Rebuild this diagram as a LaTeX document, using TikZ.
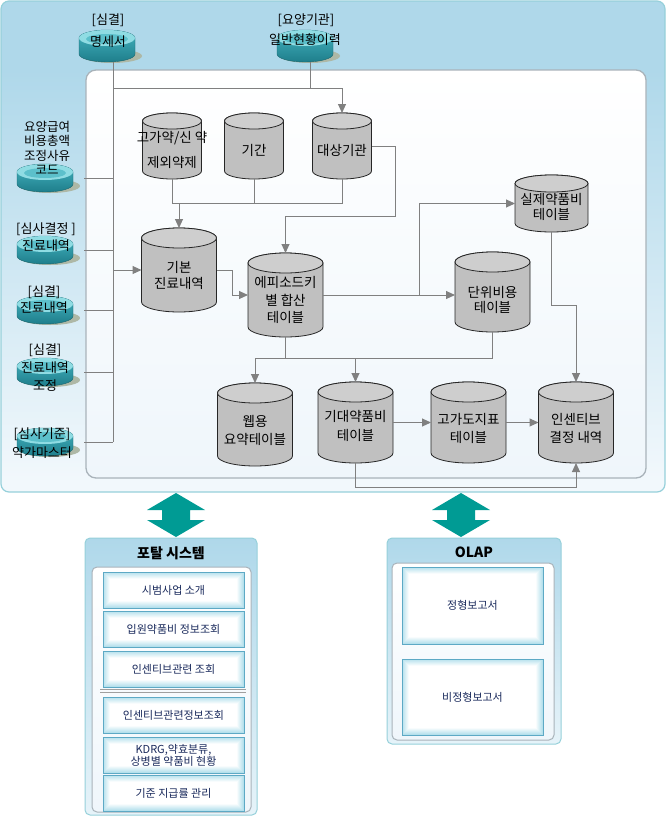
\documentclass[tikz,border=0pt]{standalone}
\usepackage{fontspec}
\setmainfont{Noto Sans CJK KR}
\usetikzlibrary{arrows.meta}
\definecolor{panelTop}{HTML}{AFD8EA}
\definecolor{panelLow}{HTML}{F2F8FC}
\definecolor{panelEdge}{HTML}{96D0DA}
\definecolor{innerEdge}{HTML}{A9B3BA}
\definecolor{innerLow}{HTML}{EFF6FB}
\definecolor{connGrey}{HTML}{808080}
\definecolor{cylBody}{HTML}{C0C0C0}
\definecolor{cylTop}{HTML}{CECECE}
\definecolor{tealTop}{HTML}{8FDCE3}
\definecolor{tealIn}{HTML}{5CC0CB}
\definecolor{tealHi}{HTML}{45B3C0}
\definecolor{tealLo}{HTML}{1E7E8B}
\definecolor{tealShadow}{HTML}{AEB8A6}
\definecolor{arrowTeal}{HTML}{009B94}
\definecolor{navy}{HTML}{1A2A5C}
\definecolor{itemEdge}{HTML}{5DA9C5}
\definecolor{itemOut}{HTML}{B5E0EC}
\definecolor{boxLow}{HTML}{E6F3F9}
\pgfdeclareverticalshading{outershade}{100bp}{color(0bp)=(panelLow); color(26bp)=(panelLow); color(68bp)=(panelTop); color(100bp)=(panelTop)}

\newcommand{\gcyl}[8]{%
  \path[cylbody] (#2-#5,-#3-#6) -- (#2-#5,-#4+#6) arc[start angle=180,end angle=360,x radius=#5,y radius=#6] -- (#2+#5,-#3-#6) arc[start angle=0,end angle=180,x radius=#5,y radius=#6] -- cycle;
  \path[cyltop] (#2,-#3-#6) ellipse[x radius=#5,y radius=#6];
  \node[cylbox, minimum width=2*#5, minimum height=#4-#3] (#1) at (#2,{-(#3+#4)/2}) {};
  \node[cyltext] (#1-t) at (#2,-#8) {#7};
}
\newcommand{\tealdb}[4]{%
  \fill[tealShadow] (#2+5,-#4+6) ellipse[x radius=30,y radius=7];
  \path[top color=tealHi, bottom color=tealLo, draw=tealLo!80!black, line width=0.4pt] (#2-28,-#3-8) -- (#2-28,-#4+8) arc[start angle=180,end angle=360,x radius=28,y radius=8] -- (#2+28,-#3-8) arc[start angle=0,end angle=180,x radius=28,y radius=8] -- cycle;
  \path[fill=tealTop] (#2,-#3-8) ellipse[x radius=28,y radius=8];
  \path[fill=tealIn] (#2,-#3-9) ellipse[x radius=21,y radius=5];
  \node[cylbox, minimum width=56, minimum height=#4-#3] (#1) at (#2,{-(#3+#4)/2}) {};
}
\newcommand{\darrow}[1]{%
  \path[fill=arrowTeal] (#1,-493) -- (#1+29,-510) -- (#1+14,-510) -- (#1+14,-520) -- (#1+29,-520) -- (#1,-537) -- (#1-29,-520) -- (#1-14,-520) -- (#1-14,-510) -- (#1-29,-510) -- cycle;
}

\begin{document}
\begin{tikzpicture}[x=1pt,y=1pt,
  conn/.style={draw=connGrey, line width=1pt},
  arr/.style={conn, -{Triangle[length=9pt,width=8pt]}},
  cylbody/.style={fill=cylBody, draw=black!85, line width=0.8pt},
  cyltop/.style={fill=cylTop, draw=black!85, line width=0.8pt},
  cylbox/.style={inner sep=0pt, outer sep=0pt, rectangle},
  cyltext/.style={font=\fontsize{13.5}{17}\selectfont, align=center, inner sep=0pt},
  lbl/.style={font=\fontsize{13}{17}\selectfont, align=center, inner sep=0pt},
  itembox/.style={draw=itemEdge, line width=1pt, fill=white, minimum width=141, inner sep=0pt, font=\fontsize{11}{15}\selectfont, text=navy, align=center,
    path picture={\foreach \i in {0,...,6}{\pgfmathsetmacro\pc{100-\i*15}
      \draw[draw=itemOut!\pc!white, line width=1.2pt] ([shift={(\i+0.6,\i+0.6)}]path picture bounding box.south west) rectangle ([shift={(-\i-0.6,-\i-0.6)}]path picture bounding box.north east);}}},
  panelbox/.style={top color=panelTop, bottom color=boxLow, draw=panelEdge, line width=1pt, rounded corners=5pt},
  whitebox/.style={top color=white, bottom color=innerLow, draw=innerEdge, line width=1pt, rounded corners=5pt},
  title/.style={font=\fontsize{14}{16}\selectfont\bfseries, inner sep=0pt}
]
\useasboundingbox (0,0) rectangle (666,-817);

% main panels
\path[shade, shading=outershade, draw=panelEdge, line width=1.2pt, rounded corners=8pt] (1,-1) rectangle (665,-492);
\path[top color=white, bottom color=innerLow, draw=innerEdge, line width=1.3pt, rounded corners=10pt] (86,-70) rectangle (646,-478);

% teal source databases
\tealdb{ms}{107}{30}{62}
\tealdb{il}{305}{30}{62}
\tealdb{cd}{45}{164}{192}
\tealdb{sg}{45}{236}{264}
\tealdb{sk}{45}{296}{324}
\tealdb{jj}{45}{358}{386}
\tealdb{yg}{45}{428}{456}

\node[lbl] (ms-a) at (108,-20) {[심결]};
\node[lbl] (ms-b) at (108,-42) {명세서};
\node[lbl] (il-a) at (306,-20) {[요양기관]};
\node[lbl] (il-b) at (305,-40) {일반현황이력};
\node[lbl, font=\fontsize{12.5}{14.5}\selectfont] (cd-t) at (47,-148) {요양급여\\비용총액\\조정사유\\코드};
\node[lbl] (sg-t) at (46,-237) {[심사결정 ]\\진료내역};
\node[lbl, font=\fontsize{13}{16}\selectfont] (sk-t) at (44,-300) {[심결]\\진료내역};
\node[lbl, font=\fontsize{13}{18}\selectfont] (jj-t) at (45,-368) {[심결]\\진료내역\\조정};
\node[lbl, font=\fontsize{13}{19}\selectfont] (yg-t) at (42,-443) {[심사기준]\\약가마스터};

% grey tables
\gcyl{gy}{172}{113}{179}{29.5}{8}{고가약/신 약\\[8pt]제외약제}{150}
\gcyl{gg}{254}{113}{179}{29.5}{8}{기간}{150}
\gcyl{dg}{342}{113}{179}{29.5}{8}{대상기관}{150}
\gcyl{kb}{179}{228}{312}{37.5}{10}{기본\\[-1pt]진료내역}{275}
\gcyl{ep}{285.5}{253}{337}{37.5}{10}{에피소드키\\[0.5pt]별 합산\\[0.5pt]테이블}{300}
\gcyl{sj}{551.5}{175}{232}{36.5}{8.5}{실제약품비\\[-2pt]테이블}{207}
\gcyl{ub}{492.5}{252}{332}{37.5}{10}{단위비용\\[-2pt]테이블}{300}
\gcyl{wb}{255}{383}{466}{37.5}{10}{웹용\\[1pt]요약테이블}{430}
\gcyl{ex}{355.5}{382}{463}{37.5}{10}{기대약품비\\[2pt]테이블}{426}
\gcyl{gd}{468.5}{382}{463}{37.5}{10}{고가도지표\\[1pt]테이블}{428}
\gcyl{ic}{576}{382}{463}{37.5}{10}{인센티브\\[1pt]결정 내역}{428}

% helper coordinates
\coordinate (vb) at (113,-442);
\coordinate (hy) at (0,-88);
\coordinate (jy) at (0,-203);
\coordinate (c1) at (395,-216);
\coordinate (c2) at (232,0);
\coordinate (c3) at (419,0);
\coordinate (c4) at (0,-305);
\coordinate (c5) at (0,-358);
\coordinate (c6) at (0,-487);

% source connectors
\draw[conn] ([xshift=6pt]ms.south) -- (vb);
\foreach \s in {cd,sg,sk,jj,yg}{
  \draw[conn] ([xshift=11pt]\s.east) -- (\s.east -| vb);
}
\draw[arr] (kb.west -| vb) -- (kb.west);
\draw[conn] ([xshift=5pt]il.south) -- ([xshift=5pt]il.south |- hy);
\draw[arr] (vb |- hy) -| (dg.north);

% table connectors
\draw[conn] (gy.south) -- (gy.south |- jy) -- (dg.south |- jy) -- (dg.south);
\draw[conn] (gg.south) -- (gg.south |- jy);
\draw[arr] (kb.north |- jy) -- (kb.north);
\draw[arr] (dg.east) -| (c1) -| (ep.north);
\draw[arr] (kb.east) -- (kb.east -| c2) |- (ep.west);
\draw[arr] (ep.east) -- (ep.east -| ub.west);
\draw[arr] (ep.east -| c3) |- (sj.west);
\draw[arr] (sj.south) -- (sj.south |- c4) -| (ic.north);
\draw[arr] (ep.south) -- (ep.south |- c5) -| (wb.north);
\draw[arr] (ub.south) -- (ub.south |- c5) -| (ex.north);
\draw[conn] (ep.south |- c5) -- (ex.north |- c5);
\draw[arr] (ex.east) -- (gd.west);
\draw[arr] (gd.east) -- (ic.west);
\draw[arr] (ex.south) -- (ex.south |- c6) -| (ic.south);

% double arrows
\darrow{176}
\darrow{461}

% portal system
\path[panelbox] (85,-538) rectangle (257,-815);
\node[title] (pt) at (171,-553) {포탈 시스템};
\path[whitebox] (92,-567) rectangle (251,-812);
\node[itembox, minimum height=36] (p1) at (173.5,-590) {시범사업 소개};
\node[itembox, minimum height=36] (p2) at (173.5,-629) {입원약품비 정보조회};
\node[itembox, minimum height=36] (p3) at (173.5,-669) {인센티브관련 조회};
\draw[draw=gray!75, line width=0.8pt] (100,-689) -- (246,-689);
\draw[draw=gray!75, line width=0.8pt] (100,-692) -- (246,-692);
\node[itembox, minimum height=36] (p4) at (173.5,-715) {인센티브관련정보조회};
\node[itembox, minimum height=36] (p5) at (173.5,-755) {KDRG,약효분류,\\[-3pt]상병별 약품비 현황};
\node[itembox, minimum height=36] (p6) at (173.5,-793) {기준 지급률 관리};

% OLAP
\path[panelbox] (387,-538) rectangle (561,-744);
\node[title] (ol) at (474,-552) {OLAP};
\path[whitebox] (392,-563) rectangle (554,-740);
\node[itembox, minimum height=77] (o1) at (472.5,-605.5) {정형보고서};
\node[itembox, minimum height=76] (o2) at (472.5,-697) {비정형보고서};
\end{tikzpicture}
\end{document}
